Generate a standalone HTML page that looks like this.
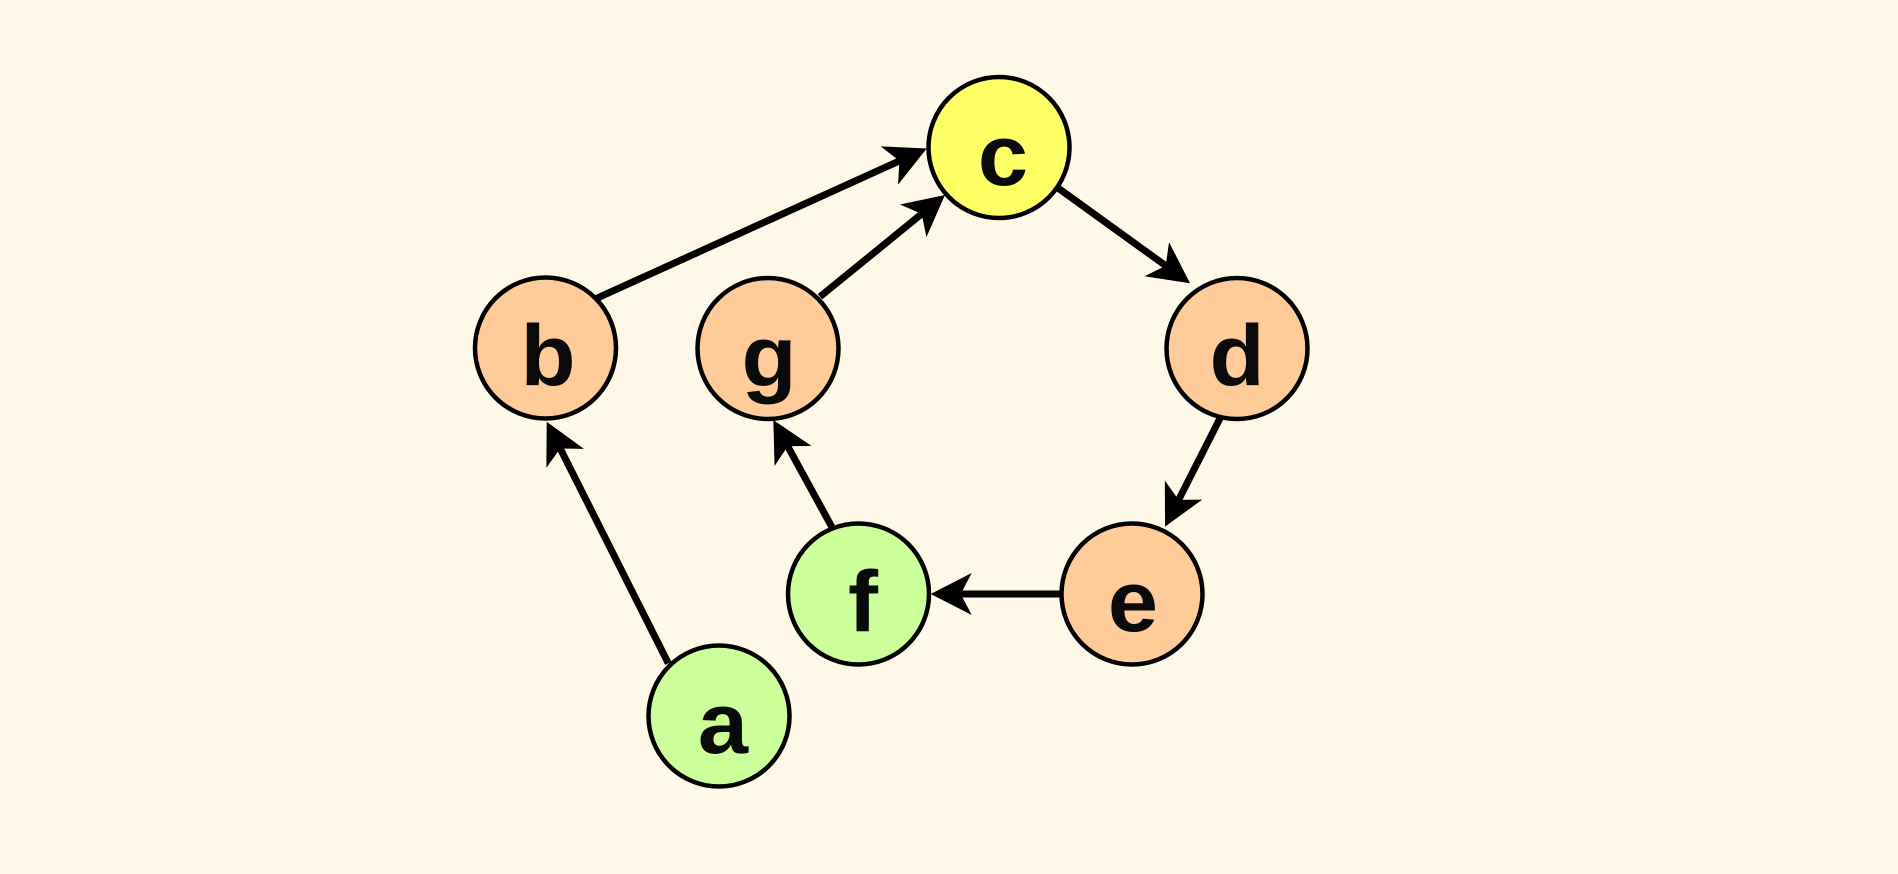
<!DOCTYPE html>
<html>
<head>
<meta charset="utf-8">
<style>
  html, body { margin: 0; padding: 0; background: #fdf8e8; }
  svg { display: block; }
</style>
</head>
<body>
<svg width="1898" height="874" viewBox="0 0 1898 874" xmlns="http://www.w3.org/2000/svg">
  <defs>
    <marker id="ah" markerUnits="userSpaceOnUse" viewBox="-20 -25 50 50" markerWidth="50" markerHeight="50" refX="0" refY="0" orient="auto" overflow="visible">
      <path d="M30,0 L-11,-21 L0,0 L-11,21 Z" fill="#000"/>
    </marker>
  </defs>
  <rect x="0" y="0" width="1898" height="874" fill="#fdf8e8"/>

  <g stroke="#000" stroke-width="7" fill="none" marker-end="url(#ah)">
    <line x1="668.3" y1="663.3" x2="560.2" y2="448.5"/>
    <line x1="596.7" y1="298.3" x2="899.4" y2="160.9"/>
    <line x1="820" y1="296.7" x2="921.7" y2="213.9"/>
    <line x1="1058" y1="188" x2="1165.7" y2="265.7"/>
    <line x1="1220" y1="418.3" x2="1178.6" y2="499.9"/>
    <line x1="1061" y1="594" x2="960.7" y2="594"/>
    <line x1="831.7" y1="526.7" x2="787.7" y2="446.3"/>
  </g>

  <g stroke="#000" stroke-width="4.5">
    <circle cx="999" cy="147.5" r="70.5" fill="#ffff66"/>
    <circle cx="545.5" cy="348" r="70.5" fill="#ffcc99"/>
    <circle cx="768" cy="348.5" r="70.5" fill="#ffcc99"/>
    <circle cx="1237" cy="348.5" r="70.5" fill="#ffcc99"/>
    <circle cx="1132" cy="594" r="70.5" fill="#ffcc99"/>
    <circle cx="858.5" cy="594" r="70.5" fill="#ccff99"/>
    <circle cx="719" cy="716" r="70.5" fill="#ccff99"/>
  </g>

  <g font-family="Liberation Sans, DejaVu Sans, sans-serif" font-weight="bold" font-size="82" fill="#0a0a0a" text-anchor="middle">
    <text x="0" y="0" transform="translate(1003,185) scale(1.1,1.05)">c</text>
    <text x="0" y="0" transform="translate(548,385) scale(1.1,1.05)">b</text>
    <text x="0" y="0" transform="translate(769,386) scale(1.1,1.05)">g</text>
    <text x="0" y="0" transform="translate(1237,385) scale(1.1,1.05)">d</text>
    <text x="0" y="0" transform="translate(1133,631) scale(1.1,1.05)">e</text>
    <text x="0" y="0" transform="translate(863,631) scale(1.1,1.05)">f</text>
    <text x="0" y="0" transform="translate(723,753) scale(1.1,1.05)">a</text>
  </g>
</svg>
</body>
</html>
